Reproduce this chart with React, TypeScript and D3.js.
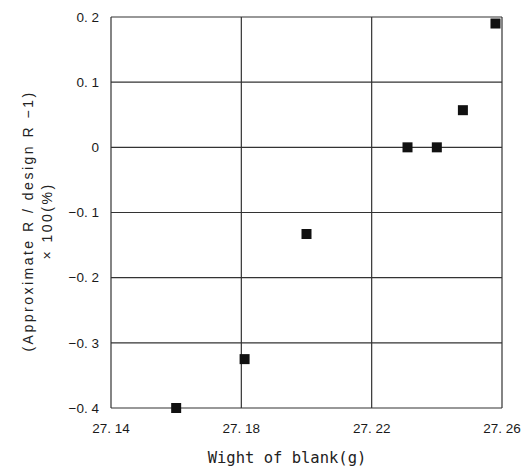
import * as d3 from 'd3'
import { useEffect, useRef } from 'react'

// blank weight (g) vs. deviation (%)
const weights = [27.16, 27.181, 27.2, 27.231, 27.24, 27.248, 27.258]
const deviations = [-0.4, -0.325, -0.133, 0, 0, 0.057, 0.19]
const xTicks = [27.14, 27.18, 27.22, 27.26]
const yTicks = [0.2, 0.1, 0, -0.1, -0.2, -0.3, -0.4]

const App = () => {
  const svgRef = useRef<SVGSVGElement>(null)

  useEffect(() => {
    const w = 522
    const h = 470
    const m = { left: 111, right: 20, top: 17, bottom: 62 }

    const svg = d3.select(svgRef.current).attr('width', w).attr('height', h)
    svg.selectAll('*').remove()

    const x = d3.scaleLinear().domain([27.14, 27.26]).range([m.left, w - m.right])
    const y = d3.scaleLinear().domain([-0.4, 0.2]).range([h - m.bottom, m.top])

    const fmt = (v: number) => {
      const s = v === 0 ? '0' : d3.format('.2~f')(v)
      return s.replace('-', '−').replace('.', '. ')
    }

    // grid
    svg.append('g').selectAll('line').data(yTicks).join('line')
      .attr('x1', x(27.14)).attr('x2', x(27.26))
      .attr('y1', d => y(d)).attr('y2', d => y(d))
      .attr('stroke', '#333').attr('stroke-width', 1.2)
    svg.append('g').selectAll('line').data(xTicks).join('line')
      .attr('x1', d => x(d)).attr('x2', d => x(d))
      .attr('y1', y(0.2)).attr('y2', y(-0.4))
      .attr('stroke', '#333').attr('stroke-width', 1.2)

    // tick labels
    const tickFont = '"Liberation Sans", Arial, sans-serif'
    svg.append('g').selectAll('text').data(yTicks).join('text')
      .attr('x', m.left - 12).attr('y', d => y(d)).attr('dy', '0.35em')
      .attr('text-anchor', 'end')
      .style('font-family', tickFont).style('font-size', '13.5px')
      .attr('fill', '#1a1a1a')
      .text(d => fmt(d))
    svg.append('g').selectAll('text').data(xTicks).join('text')
      .attr('x', d => x(d)).attr('y', y(-0.4) + 25)
      .attr('text-anchor', 'middle')
      .style('font-family', tickFont).style('font-size', '13.5px')
      .attr('fill', '#1a1a1a')
      .text(d => fmt(d))

    // points
    const s = 10
    svg.append('g').selectAll('rect').data(weights).join('rect')
      .attr('x', (d) => x(d) - s / 2)
      .attr('y', (_, i) => y(deviations[i]) - s / 2)
      .attr('width', s).attr('height', s)
      .attr('fill', '#111')

    // axis titles
    svg.append('text')
      .attr('x', 287).attr('y', 463).attr('text-anchor', 'middle')
      .style('font-family', '"DejaVu Sans Mono", monospace').style('font-size', '15.5px')
      .attr('fill', '#222')
      .text('Wight of blank(g)')

    const yt = svg.append('text')
      .attr('transform', 'translate(33,221) rotate(-90)')
      .attr('text-anchor', 'middle')
      .style('font-family', '"Liberation Sans", Arial, sans-serif').style('font-size', '14px')
      .style('letter-spacing', '2.5px')
      .attr('fill', '#222')
    yt.append('tspan').attr('x', 0).attr('y', 0).text('(Approximate R / design R −1)')
    yt.append('tspan').attr('x', 0).attr('y', 19).text('× 100(%)')
  }, [])

  return (
    <svg ref={svgRef} style={{ position: 'absolute', left: 0, top: 0, display: 'block' }}></svg>
  )
}

export default App
